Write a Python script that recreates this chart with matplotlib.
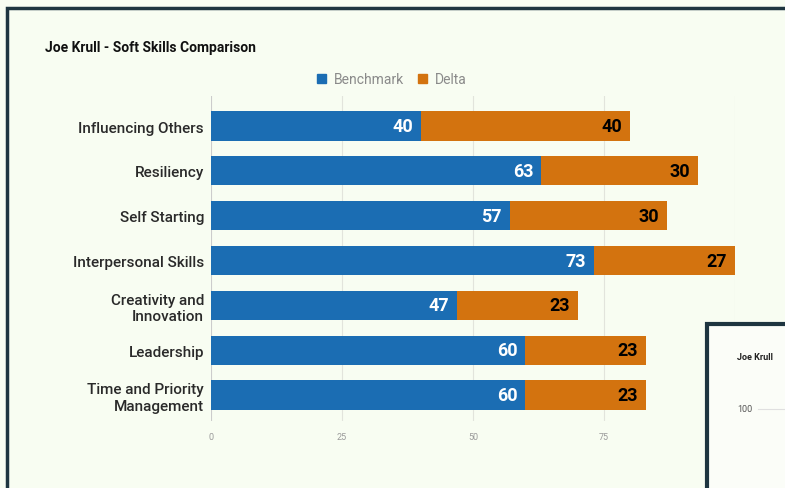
import matplotlib.pyplot as plt
from matplotlib.patches import Rectangle, Patch
import numpy as np

skills = ['Influencing Others', 'Resiliency', 'Self Starting', 'Interpersonal Skills',
          'Creativity and\nInnovation', 'Leadership', 'Time and Priority\nManagement']
benchmark = [40, 63, 57, 73, 47, 60, 60]
delta = [40, 30, 30, 27, 23, 23, 23]
xticks = [0, 25, 50, 75]

blue = '#1b6db3'
orange = '#d3730f'
bg = '#f8fdf2'
frame = '#1e3540'

plt.rcParams['font.family'] = ['Roboto', 'DejaVu Sans']

W, H = 785, 489
fig = plt.figure(figsize=(W / 100, H / 100), dpi=100, facecolor=bg)

# outer frame (runs off the right and bottom edge)
fig.patches.append(Rectangle((7 / W, -0.1), 1.2, 1 - 9 / H + 0.1, transform=fig.transFigure,
                             fill=False, edgecolor=frame, linewidth=2.5))

ax = fig.add_axes([211 / W, 1 - 422 / H, (735 - 211) / W, (422 - 97) / H])
ax.set_facecolor(bg)
y = np.arange(len(skills))
ax.barh(y, benchmark, height=0.65, color=blue, zorder=3)
ax.barh(y, delta, left=benchmark, height=0.65, color=orange, zorder=3)

for i in range(len(skills)):
    ax.text(benchmark[i] - 1.5, y[i], str(benchmark[i]), ha='right', va='center',
            color='white', fontsize=13, fontweight='bold', zorder=4)
    ax.text(benchmark[i] + delta[i] - 1.5, y[i], str(delta[i]), ha='right', va='center',
            color='black', fontsize=13, fontweight='bold', zorder=4)

ax.set_xlim(0, 100)
ax.set_ylim(6.58, -0.67)
ax.set_yticks(y)
ax.set_yticklabels(skills, fontsize=11, color='#2a2a2a', fontweight='medium')
ax.set_xticks(xticks)
ax.set_xticklabels([str(t) for t in xticks], fontsize=6.5, color='#9a9a9a')
ax.tick_params(length=0)
ax.tick_params(axis='y', pad=5)
ax.tick_params(axis='x', pad=8)
for xv in [25, 50, 75, 100]:
    ax.axvline(xv, color='#e2e4dc', linewidth=0.8, zorder=1)
ax.axvline(0, color='#cccccc', linewidth=0.8, zorder=1)
for s in ax.spines.values():
    s.set_visible(False)

fig.text(45 / W, 1 - 48 / H, 'Joe Krull - Soft Skills Comparison', fontsize=10,
         fontweight='bold', color='#111111', va='center')

handles = [Patch(color=blue, label='Benchmark'), Patch(color=orange, label='Delta')]
leg = fig.legend(handles=handles, loc='center', bbox_to_anchor=(392 / W, 1 - 80 / H), ncol=2,
                 frameon=False, fontsize=10, handlelength=0.6, handleheight=0.6,
                 handletextpad=0.6, columnspacing=1.0)
for t in leg.get_texts():
    t.set_color('#8a8a8a')

# second panel peeking in at bottom right
fig.patches.append(Rectangle((707 / W, -0.1), 1.0, 1 - 325 / H + 0.1, transform=fig.transFigure,
                             facecolor='#fbfdf8', edgecolor=frame, linewidth=3, zorder=5))
fig.text(737 / W, 1 - 357 / H, 'Joe Krull', fontsize=6.5, fontweight='bold',
         color='#222222', va='center', zorder=6)
fig.text(737 / W, 1 - 410 / H, '100', fontsize=6.5, color='#555555', va='center', zorder=6)
fig.lines.append(plt.Line2D([758 / W, 1.0], [1 - 410 / H, 1 - 410 / H], transform=fig.transFigure,
                            color='#e0e0e0', linewidth=0.8, zorder=6))

fig.savefig('out.png', dpi=100, facecolor=bg)
